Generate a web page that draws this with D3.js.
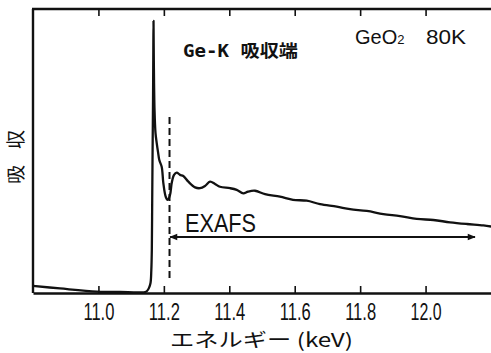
<!DOCTYPE html>
<html><head><meta charset="utf-8">
<script src="https://cdn.jsdelivr.net/npm/d3@7"></script>
<style>
html,body{margin:0;padding:0;background:#fff;}
svg{display:block;}
</style></head>
<body>
<svg id="chart" width="491" height="353"></svg>
<script>
// ---- data (energy in keV, absorption in arbitrary units) ----
const energy = [10.800,10.8825,10.9957,11.066,11.1424,11.1485,11.1546,11.1592,11.1617,11.1632,11.1644,11.1656,11.1669,11.1678,11.1684,
  11.1693,11.1715,11.1745,11.1782,11.1821,11.1861,11.1935,11.1984,11.2057,11.2118,11.2188,11.2240,11.2311,11.2393,11.2494,11.2595,
  11.2748,11.2953,11.3105,11.3258,11.3411,11.3564,11.3717,11.4023,11.4227,11.4429,11.4573,11.4787,11.5093,11.5551,11.5949,11.6367,
  11.6774,11.7285,11.7691,11.8202,11.8709,11.9220,11.9730,12.0238,12.0748,12.1259,12.1766,12.2002];
const absorption = [0.25,0.16,0.05,0.035,0.035,0.07,0.18,0.35,0.81,1.51,3.28,5.04,6.80,8.56,9.58,
  8.20,6.44,5.63,5.28,4.97,4.68,4.44,3.87,3.39,3.28,3.45,3.87,4.16,4.24,4.16,4.12,
  3.92,3.72,3.69,3.77,3.92,3.84,3.74,3.69,3.63,3.51,3.57,3.60,3.48,3.39,3.28,3.25,
  3.13,3.04,2.95,2.89,2.78,2.71,2.61,2.57,2.49,2.43,2.38,2.34];
const xTicks = [11.0, 11.2, 11.4, 11.6, 11.8, 12.0];
const xTickLabels = ["11.0","11.2","11.4","11.6","11.8","12.0"];
const edgeMarker = {energy: 11.2173, from: 0.53, to: 6.20};
const exafsRange = {start: 11.219, end: 12.151, level: 1.97};
const xDomain = [10.8, 12.2];
const yDomain = [0, 10];

const svg = d3.select("#chart");
const x = d3.scaleLinear().domain(xDomain).range([33, 491]);
const y = d3.scaleLinear().domain(yDomain).range([293, 9]);

svg.append("defs").append("marker")
  .attr("id","ah").attr("viewBox","0 0 10 10").attr("refX",9).attr("refY",5)
  .attr("markerWidth",12).attr("markerHeight",8).attr("markerUnits","userSpaceOnUse")
  .attr("orient","auto-start-reverse")
  .append("path").attr("d","M0,1 L10,5 L0,9 Z").attr("fill","#111");

// frame: left, top
const g = svg.append("g");
g.append("line").attr("x1",33).attr("x2",33).attr("y1",9).attr("y2",293).attr("stroke","#111").attr("stroke-width",2.4);
g.append("line").attr("x1",32).attr("x2",491).attr("y1",9).attr("y2",9).attr("stroke","#111").attr("stroke-width",2.4);

// bottom axis with inward ticks
const xAxisB = d3.axisBottom(x).tickValues(xTicks).tickSizeInner(-7).tickSizeOuter(0)
  .tickFormat((d,i)=>xTickLabels[i]);
const ax = svg.append("g").attr("transform","translate(0,293)").call(xAxisB)
  .attr("font-size",23).attr("font-family","'Liberation Sans', Arial, sans-serif");
ax.select(".domain").attr("stroke","#111").attr("stroke-width",2.4);
ax.selectAll(".tick line").attr("stroke","#111").attr("stroke-width",1.6);
ax.selectAll(".tick text")
  .attr("fill","#111")
  .attr("y",27).attr("dy",0)
  .attr("textLength",31).attr("lengthAdjust","spacingAndGlyphs");

// top axis inward ticks
const xAxisT = d3.axisTop(x).tickValues(xTicks).tickSizeInner(-7).tickSizeOuter(0).tickFormat("");
const at = svg.append("g").attr("transform","translate(0,9)").call(xAxisT);
at.select(".domain").remove();
at.selectAll(".tick line").attr("stroke","#111").attr("stroke-width",1.6);

// spectrum
const pts = energy.map((e,i)=>[e, absorption[i]]);
const line = d3.line().x(d=>x(d[0])).y(d=>y(d[1])).curve(d3.curveCatmullRom.alpha(0.5));
svg.append("path").datum(pts).attr("d",line)
  .attr("fill","none").attr("stroke","#111").attr("stroke-width",2.3).attr("stroke-linejoin","round");

// edge marker (dashed)
svg.append("line")
  .attr("x1",x(edgeMarker.energy)).attr("x2",x(edgeMarker.energy))
  .attr("y1",y(edgeMarker.to)).attr("y2",y(edgeMarker.from))
  .attr("stroke","#111").attr("stroke-width",2).attr("stroke-dasharray","7,4");

// EXAFS arrow
svg.append("line")
  .attr("x1",x(exafsRange.start)).attr("x2",x(exafsRange.end))
  .attr("y1",y(exafsRange.level)).attr("y2",y(exafsRange.level))
  .attr("stroke","#111").attr("stroke-width",2)
  .attr("marker-start","url(#ah)").attr("marker-end","url(#ah)");
svg.append("text").attr("x",185).attr("y",232)
  .attr("font-family","'Liberation Sans', Arial, sans-serif").attr("font-size",25).attr("fill","#111")
  .attr("textLength",71).attr("lengthAdjust","spacingAndGlyphs").text("EXAFS");

// annotations
const t1 = svg.append("text").attr("x",183).attr("y",57).attr("fill","#111")
  .attr("textLength",115).attr("lengthAdjust","spacingAndGlyphs");
t1.append("tspan").attr("font-family","'DejaVu Sans Mono', monospace").attr("font-weight","bold").attr("font-size",17).text("Ge-K ");
t1.append("tspan").attr("font-family","'Noto Sans CJK JP', sans-serif").attr("font-weight","bold").attr("font-size",17).text("吸収端");

const t2 = svg.append("text").attr("x",355).attr("y",44).attr("fill","#111")
  .attr("font-family","'Liberation Sans', Arial, sans-serif").attr("font-size",20);
t2.append("tspan").text("GeO");
t2.append("tspan").attr("font-size",13).text("2");
svg.append("text").attr("x",426).attr("y",44).attr("fill","#111")
  .attr("font-family","'Liberation Sans', Arial, sans-serif").attr("font-size",20)
  .attr("textLength",40).attr("lengthAdjust","spacingAndGlyphs").text("80K");

// axis titles
svg.append("text").attr("x",170).attr("y",347).attr("fill","#111")
  .attr("font-family","'Noto Sans CJK JP', sans-serif").attr("font-size",19)
  .attr("textLength",183).attr("lengthAdjust","spacingAndGlyphs").text("エネルギー (keV)");
svg.append("text").attr("transform","translate(23,157) rotate(-90)").attr("text-anchor","middle")
  .attr("fill","#111").attr("font-family","'Noto Sans CJK JP', sans-serif").attr("font-size",19)
  .attr("letter-spacing",16).attr("dx",8)
  .text("吸収");
</script>
</body></html>
